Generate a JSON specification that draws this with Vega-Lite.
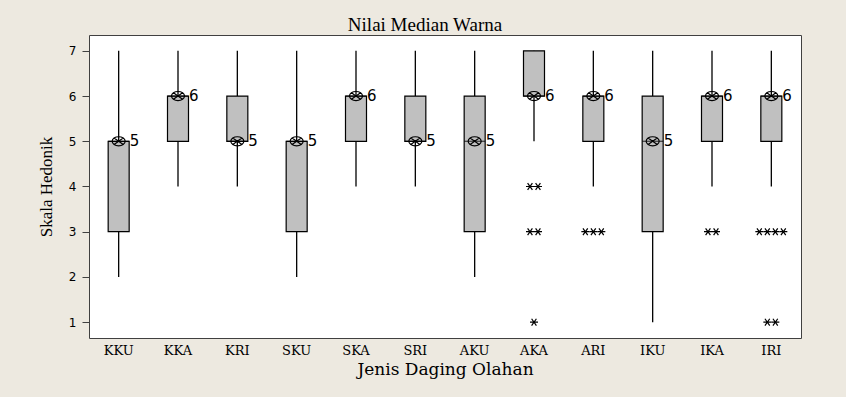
{
  "$schema": "https://vega.github.io/schema/vega-lite/v6.json",
  "autosize": "none",
  "width": 712,
  "height": 303,
  "padding": {"left": 89, "top": 35, "right": 45, "bottom": 59},
  "background": "#EDE9E0",
  "config": {"view": {"fill": "white", "stroke": "#404040", "strokeWidth": 1}},
  "title": {"text": "Nilai Median Warna", "font": "Liberation Serif", "fontSize": 19, "fontWeight": "normal", "color": "black", "anchor": "middle", "dx": -20, "dy": 20, "baseline": "alphabetic", "offset": 5},
  "datasets": {
    "kotak": [
      {"jenis": "KKU", "min": 2, "q1": 3, "median": 5, "q3": 5, "max": 7},
      {"jenis": "KKA", "min": 4, "q1": 5, "median": 6, "q3": 6, "max": 7},
      {"jenis": "KRI", "min": 4, "q1": 5, "median": 5, "q3": 6, "max": 7},
      {"jenis": "SKU", "min": 2, "q1": 3, "median": 5, "q3": 5, "max": 7},
      {"jenis": "SKA", "min": 4, "q1": 5, "median": 6, "q3": 6, "max": 7},
      {"jenis": "SRI", "min": 4, "q1": 5, "median": 5, "q3": 6, "max": 7},
      {"jenis": "AKU", "min": 2, "q1": 3, "median": 5, "q3": 6, "max": 7},
      {"jenis": "AKA", "min": 5, "q1": 6, "median": 6, "q3": 7, "max": 7},
      {"jenis": "ARI", "min": 4, "q1": 5, "median": 6, "q3": 6, "max": 7},
      {"jenis": "IKU", "min": 1, "q1": 3, "median": 5, "q3": 6, "max": 7},
      {"jenis": "IKA", "min": 4, "q1": 5, "median": 6, "q3": 6, "max": 7},
      {"jenis": "IRI", "min": 4, "q1": 5, "median": 6, "q3": 6, "max": 7}
    ],
    "pencilan": [
      {"jenis": "AKA", "nilai": 4}, {"jenis": "AKA", "nilai": 4},
      {"jenis": "AKA", "nilai": 3}, {"jenis": "AKA", "nilai": 3},
      {"jenis": "AKA", "nilai": 1},
      {"jenis": "ARI", "nilai": 3}, {"jenis": "ARI", "nilai": 3}, {"jenis": "ARI", "nilai": 3},
      {"jenis": "IKA", "nilai": 3}, {"jenis": "IKA", "nilai": 3},
      {"jenis": "IRI", "nilai": 3}, {"jenis": "IRI", "nilai": 3}, {"jenis": "IRI", "nilai": 3}, {"jenis": "IRI", "nilai": 3},
      {"jenis": "IRI", "nilai": 1}, {"jenis": "IRI", "nilai": 1}
    ]
  },
  "encoding": {
    "x": {
      "field": "jenis", "type": "nominal",
      "scale": {"domain": ["KKU", "KKA", "KRI", "SKU", "SKA", "SRI", "AKU", "AKA", "ARI", "IKU", "IKA", "IRI"], "paddingInner": 0, "paddingOuter": 0},
      "axis": {"title": "Jenis Daging Olahan", "labelAngle": 0, "ticks": false, "domain": false, "labelFont": "DejaVu Serif", "labelFontSize": 13, "labelColor": "black", "labelPadding": 6, "titleFont": "DejaVu Serif", "titleFontSize": 17, "titleFontWeight": "normal", "titleColor": "black", "titlePadding": 4}
    }
  },
  "layer": [
    {
      "data": {"name": "kotak"},
      "mark": {"type": "rule", "color": "black", "strokeWidth": 1.3},
      "encoding": {
        "y": {"field": "min", "type": "quantitative", "scale": {"domain": [0.65, 7.35], "nice": false, "zero": false},
          "axis": {"title": "Skala Hedonik", "values": [1, 2, 3, 4, 5, 6, 7], "grid": false, "domain": false, "tickSize": 7, "tickColor": "#404040", "labelFont": "DejaVu Sans", "labelFontSize": 12, "labelColor": "black", "labelPadding": 6, "titleFont": "Liberation Serif", "titleFontSize": 17, "titleFontWeight": "normal", "titleColor": "black", "titlePadding": 13}},
        "y2": {"field": "max"}
      }
    },
    {
      "data": {"name": "kotak"},
      "mark": {"type": "bar", "fill": "#C0C0C0", "stroke": "black", "strokeWidth": 1.2, "size": 21},
      "encoding": {
        "y": {"field": "q1", "type": "quantitative"},
        "y2": {"field": "q3"}
      }
    },
    {
      "data": {"name": "kotak"},
      "mark": {"type": "tick", "color": "black", "size": 21, "thickness": 1.2},
      "encoding": {
        "y": {"field": "median", "type": "quantitative"}
      }
    },
    {
      "data": {"name": "kotak"},
      "mark": {"type": "point", "shape": "M-1,0A1,0.7 0 1,0 1,0A1,0.7 0 1,0 -1,0ZM-0.7,-0.5L0.7,0.5M-0.7,0.5L0.7,-0.5", "filled": false, "stroke": "black", "strokeWidth": 1.2, "size": 169, "opacity": 1},
      "encoding": {
        "y": {"field": "median", "type": "quantitative"}
      }
    },
    {
      "data": {"name": "kotak"},
      "mark": {"type": "text", "align": "left", "baseline": "middle", "dx": 11, "font": "DejaVu Sans", "fontSize": 15, "color": "black"},
      "encoding": {
        "y": {"field": "median", "type": "quantitative"},
        "text": {"field": "median", "type": "quantitative"}
      }
    },
    {
      "data": {"name": "pencilan"},
      "transform": [
        {"window": [{"op": "row_number", "as": "urut"}, {"op": "count", "as": "jumlah"}], "groupby": ["jenis", "nilai"], "frame": [null, null]},
        {"calculate": "datum.urut - (datum.jumlah + 1) / 2", "as": "geser"}
      ],
      "mark": {"type": "point", "shape": "M-1,0L1,0M-0.6,-0.85L0.6,0.85M-0.6,0.85L0.6,-0.85", "filled": false, "stroke": "black", "strokeWidth": 1.2, "size": 64, "opacity": 1},
      "encoding": {
        "y": {"field": "nilai", "type": "quantitative"},
        "xOffset": {"field": "geser", "type": "quantitative", "scale": {"domain": [-2, 2], "range": [13.67, 45.67]}}
      }
    }
  ]
}
